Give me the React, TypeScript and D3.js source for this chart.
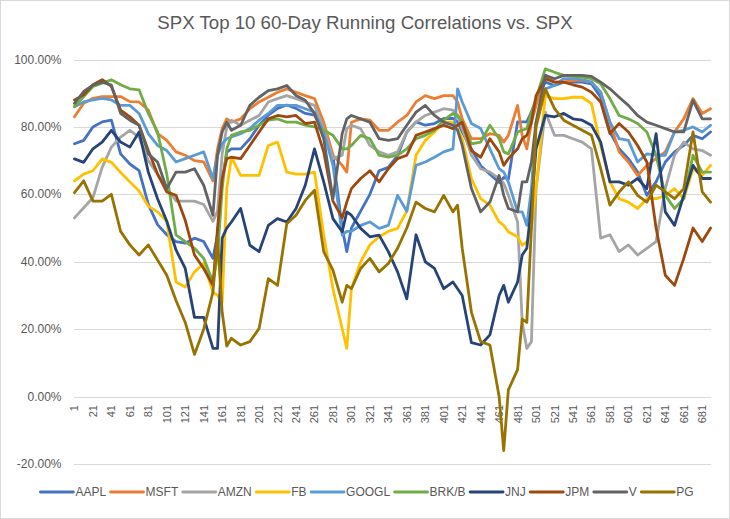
import React, { useMemo } from "react";
import * as d3 from "d3";

const days = [1,11,21,31,41,51,61,71,81,91,
  101,111,121,131,141,151,156,161,166,171,
  181,191,201,211,221,231,241,251,261,271,
  281,291,296,301,311,321,331,341,351,361,
  371,381,391,401,411,416,421,431,441,451,
  461,466,471,481,486,491,496,501,511,521,
  531,541,551,561,571,581,591,601,611,621,
  631,641,651,661,671,681,690];

const AAPL = [75,76,80,81.5,82,72,69,67,57,51,
  48,46,45.5,47,46,41,48,64,72.5,73.5,
  73.5,76.5,80.5,83.5,85.5,86.5,85.5,84,83.5,78.5,
  71.5,50,43,50,55,60,67,68,71.5,78.5,
  81.5,80.5,81,82.5,82.5,81.5,78.5,73.5,68.5,66,
  63.5,65,64.5,81.5,81.5,81.5,84.5,87.5,93.3,92.3,
  93.3,93.3,93.3,92.8,88.8,78.5,73.5,70.6,66.6,59.7,
  63.7,69.6,72.6,74.5,77.5,76.5,78.5];
const MSFT = [83,87,88.5,89,89,89,87.5,87.4,85,78,
  76,72.6,71.6,70,69.6,64,73.5,79.5,82.4,81.4,
  82.4,85.4,87.4,88.8,90.3,91.3,90.3,89.3,88.4,81.4,
  71.6,68.6,66.6,81.4,82.4,82,79,79,81.4,83.4,
  87.4,89.3,88.4,89.3,89.3,87.4,82.4,76.5,76.5,78,
  77.5,75.5,77.5,86.4,77.5,73.5,81.4,86.4,95.3,93.3,
  93.3,93.8,93.8,93.3,90.3,81.4,72.6,69.6,65.6,68.6,
  70.6,72.6,78.5,82.4,88.4,84,85.4];
const AMZN = [53,56,59,68,74,77,79,77,70,66,
  62,58,58,58,57,52,55,72,80,82,
  80.5,82,83.4,87.4,88.4,89.3,88.4,87.4,86.4,79.5,
  70.6,71.6,79.5,80.5,79.5,74.5,72.6,71.6,72.6,78.5,
  81.4,83.4,84.4,85.4,85,83.4,79.5,71.6,67.6,66.6,
  64.7,63.2,59.7,51.8,22,14.3,16.3,61.7,84.4,77.5,
  77.5,76.5,75.5,73.5,47,48,43,45,42,44,
  46,61.7,71.6,75.5,73.5,73,71.6];
const FB = [64,66,67,70.5,69.5,66.5,63.7,61,56.5,54.8,
  52,34,32.5,37,39.5,31,30,28,61.7,71,
  65.6,65.6,65.6,74.5,75.5,66.6,66,66,66.6,48,
  32,20.2,14.3,32,40,45,47.4,49,49.9,55,
  71.6,76,78.5,81.4,81.4,79.5,76.5,64.7,58.7,56.8,
  51.8,50.8,48.9,47.4,44.9,45.9,49.9,61.7,89.3,88.4,
  88.4,88.8,88.8,86.9,74.5,63.7,58.7,57.7,55.8,58.7,
  58.7,59.7,61.7,58.7,67.6,65.6,68.6];
const GOOGL = [86,87.4,88,88.5,88,86.4,86.4,84,78,74.5,
  73,69.6,70.6,71.6,72.6,64.7,71.6,75,76.5,77,
  78,79.5,82,84,86.4,86.4,86.4,85.4,84.4,78.5,
  68.6,47.9,49,49,50.8,51.8,49.9,50.8,59.7,55,
  68.6,69.6,71,72.6,73.5,91.3,87.4,81,79.5,73.5,
  67.6,66.6,63.7,54.8,54.8,50.8,61.7,81.4,91.3,92.3,
  94.3,94.3,94,93.3,90.3,81.4,76.5,76,69.6,72,
  71.6,71.6,78.5,79,80,78.5,80.5];
const BRKB = [86,89,92,93,94,92.5,91.3,91,84,78.5,
  66,48,46,44,41,34,42,61.7,73.5,77.5,
  78.5,79,80.5,82,82.4,81.4,81.4,80.5,80,79,
  77.5,73.5,73.5,74.5,77.5,76.5,71.6,71,71.6,73.5,
  76.5,77.5,79,82,84,83.4,81.4,75,75.5,80.5,
  76.5,72.6,72,78.5,79,79.5,84.4,88.4,97.2,96.2,
  95.3,95,94.8,94.3,92.8,88.4,83.4,82.4,81,78.5,
  71.6,59.7,55.8,58.7,71.6,66.6,66.6];
const JNJ = [70.5,69.5,73.5,75.5,79,75.5,74,78.5,66.6,58.7,
  52,43.5,38,23.5,23.5,14.3,14.3,47,50,51.8,
  55.8,44.9,43,50.8,52.8,51.8,55.8,62.7,73.5,63.7,
  52.8,48.9,54.8,53.8,49.9,47.4,47.9,43,37,29,
  48,40,38,32,34,32,30,16,15.3,18.3,
  30,33,28,34,42,44,56.8,73.5,83.4,83,
  84,82.4,82,80.5,75.5,63.7,63.7,62.7,64.7,61.7,
  78,54.8,50.8,59.7,68.6,64.7,64.7];
const JPM = [88,89.5,92.5,94,92,85,83,80.5,73,66,
  60.7,59.7,52.3,42,38,33,50,64.7,70.6,71,
  70.6,74.5,78.5,82.4,83.4,83,83.4,81,81.4,72.6,
  58,53,57.7,61.7,64.7,67,63.7,67.6,70.6,71.6,
  77.5,78.5,79.5,80.5,79.5,80.5,81.4,73,71,76.5,
  72.6,68.6,70.6,73.5,76.5,77.5,81.4,89.3,94.3,93.3,
  93.3,92.5,91.8,90.3,87.4,78,81,78.5,74.5,69.6,
  50,36,33,41,50,46,50];
const V = [87,90.5,92.4,93.3,92.4,84,82,80.5,72,69.6,
  61.7,66.6,66.6,67.6,62.7,53.8,71.6,78.5,81.4,79,
  80.5,86.4,88.8,90.8,91.3,92.3,89.3,87.9,84,76.5,
  58.7,78,82.4,83.4,82.4,81.4,76.5,76,76.5,80.5,
  84.4,86.4,83.4,81.4,80.5,79,74.5,61.7,54.8,57.7,
  65.6,59.7,55.8,54.8,63.7,63.7,69.6,81.4,95.3,94.3,
  95.3,95.3,95.3,95,93.3,91.3,88.8,86.4,83.4,81.4,
  80.5,79.5,78.5,78.5,87.9,82.4,82.4];
const PG = [60.5,64,58,58,60,49,45,42,45,40.5,
  36,28.5,22,12.5,20,31,47,25,15,17.3,
  15.3,16.3,20.2,35,33,51.3,53.8,58.2,61.2,43,
  37.5,28,33,32,38,41,37,39.5,44,50,
  57.7,55.8,54.8,59.7,54.8,56.8,44,25,16.3,15.3,
  0,-16,2,8,23,22,50,80,91.3,85.4,
  82,80.5,79,77.5,67.6,56.8,60.7,63.7,59.7,57.7,
  62.7,60.7,58.7,61.7,78.5,60.7,57.7];

const seriesNames = ["AAPL", "MSFT", "AMZN", "FB", "GOOGL", "BRK/B", "JNJ", "JPM", "V", "PG"];
const seriesValues = [AAPL, MSFT, AMZN, FB, GOOGL, BRKB, JNJ, JPM, V, PG];
const seriesColors = ["#4472C4", "#ED7D31", "#A5A5A5", "#FFC000", "#5B9BD5", "#70AD47", "#264478", "#9E480E", "#636363", "#997300"];

const yTickValues = [100, 80, 60, 40, 20, 0, -20];
const xTickLabels = [1,21,41,61,81,101,121,141,161,181,201,221,241,261,281,301,321,341,361,381,401,421,441,461,481,501,521,541,561,581,601,621,641,661,681];

const W = 730;
const H = 519;
const FONT = '"Liberation Sans", Arial, sans-serif';
const TEXT = "#595959";

export default function App() {
  const x = d3.scaleLinear().domain([0.5, 690.5]).range([74, 711]);
  const y = d3.scaleLinear().domain([-20, 100]).range([464, 59.5]);
  const line = d3
    .line<[number, number]>()
    .x((d) => x(d[0]))
    .y((d) => y(d[1]));

  const legend = useMemo(() => {
    const canvas = document.createElement("canvas");
    const ctx = canvas.getContext("2d")!;
    ctx.font = `12px ${FONT}`;
    const lineLen = 33;
    const textGap = 2;
    const itemGap = 4.5;
    const widths = seriesNames.map((n) => ctx.measureText(n).width);
    const total = widths.reduce((a, w) => a + lineLen + textGap + w, 0) + itemGap * (seriesNames.length - 1);
    let cx = 367 - total / 2;
    return seriesNames.map((n, i) => {
      const item = { name: n, color: seriesColors[i], x0: cx, tx: cx + lineLen + textGap };
      cx += lineLen + textGap + widths[i] + itemGap;
      return item;
    });
  }, []);

  return (
    <svg
      width={W}
      height={H}
      style={{ position: "absolute", left: 0, top: 0, background: "#fff" }}
      fontFamily={FONT}
    >
      <rect x={0.5} y={0.5} width={W - 1} height={H - 1} fill="#fff" stroke="#D9D9D9" />
      <text x={365} y={29} textAnchor="middle" fontSize={18.67} fill={TEXT}>
        SPX Top 10 60-Day Running Correlations vs. SPX
      </text>
      {yTickValues.map((v) => (
        <g key={v}>
          <line
            x1={74}
            x2={711}
            y1={Math.round(y(v)) + 0.5}
            y2={Math.round(y(v)) + 0.5}
            stroke="#D9D9D9"
            strokeWidth={1}
          />
          <text x={61.5} y={y(v)} textAnchor="end" dominantBaseline="central" fontSize={12} fill={TEXT}>
            {`${v.toFixed(2)}%`}
          </text>
        </g>
      ))}
      {xTickLabels.map((t) => (
        <text
          key={t}
          transform={`translate(${x(t)},405) rotate(-90)`}
          textAnchor="end"
          dominantBaseline="central"
          fontSize={11}
          fill={TEXT}
        >
          {t}
        </text>
      ))}
      {seriesValues.map((vals, i) => (
        <path
          key={seriesNames[i]}
          d={line(days.map((d, j) => [d, vals[j]] as [number, number])) || ""}
          fill="none"
          stroke={seriesColors[i]}
          strokeWidth={2.8}
          strokeLinejoin="round"
          strokeLinecap="round"
        />
      ))}
      {legend.map((it) => (
        <g key={it.name}>
          <line x1={it.x0} x2={it.x0 + 33} y1={492} y2={492} stroke={it.color} strokeWidth={2.8} strokeLinecap="round" />
          <text x={it.tx} y={492} dominantBaseline="central" fontSize={12} fill={TEXT}>
            {it.name}
          </text>
        </g>
      ))}
    </svg>
  );
}
